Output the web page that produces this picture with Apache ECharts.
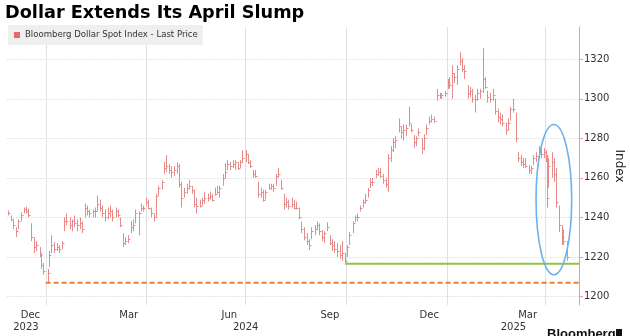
<!DOCTYPE html>
<html>
<head>
<meta charset="utf-8">
<script src="https://cdn.jsdelivr.net/npm/echarts@6/dist/echarts.min.js"></script>
<style>
html,body{margin:0;padding:0;background:#fff;}
#chart{width:630px;height:336px;}
</style>
</head>
<body>
<div id="chart"></div>
<script>
// ---- DATA ----
var seriesName = 'Bloomberg Dollar Spot Index - Last Price';
var dates = ['2023-11-27','2023-11-29','2023-12-01','2023-12-04','2023-12-06','2023-12-08','2023-12-11','2023-12-13','2023-12-15','2023-12-18','2023-12-20','2023-12-22','2023-12-26','2023-12-27','2023-12-29','2024-01-02','2024-01-03','2024-01-05','2024-01-08','2024-01-10','2024-01-12','2024-01-15','2024-01-17','2024-01-19','2024-01-22','2024-01-24','2024-01-26','2024-01-29','2024-01-31','2024-02-02','2024-02-05','2024-02-07','2024-02-09','2024-02-12','2024-02-14','2024-02-16','2024-02-19','2024-02-21','2024-02-23','2024-02-26','2024-02-28','2024-03-01','2024-03-04','2024-03-06','2024-03-08','2024-03-11','2024-03-13','2024-03-15','2024-03-18','2024-03-20','2024-03-22','2024-03-25','2024-03-27','2024-03-29','2024-04-01','2024-04-03','2024-04-05','2024-04-08','2024-04-10','2024-04-12','2024-04-15','2024-04-17','2024-04-19','2024-04-22','2024-04-24','2024-04-26','2024-04-29','2024-05-01','2024-05-03','2024-05-06','2024-05-08','2024-05-10','2024-05-13','2024-05-15','2024-05-17','2024-05-20','2024-05-22','2024-05-24','2024-05-28','2024-05-29','2024-05-31','2024-06-03','2024-06-05','2024-06-07','2024-06-10','2024-06-12','2024-06-14','2024-06-17','2024-06-19','2024-06-21','2024-06-24','2024-06-26','2024-06-28','2024-07-01','2024-07-03','2024-07-05','2024-07-08','2024-07-10','2024-07-12','2024-07-15','2024-07-17','2024-07-19','2024-07-22','2024-07-24','2024-07-26','2024-07-29','2024-07-31','2024-08-02','2024-08-05','2024-08-07','2024-08-09','2024-08-12','2024-08-14','2024-08-16','2024-08-19','2024-08-21','2024-08-23','2024-08-26','2024-08-28','2024-08-30','2024-09-02','2024-09-04','2024-09-06','2024-09-09','2024-09-11','2024-09-13','2024-09-16','2024-09-18','2024-09-20','2024-09-23','2024-09-25','2024-09-27','2024-09-30','2024-10-02','2024-10-04','2024-10-07','2024-10-09','2024-10-11','2024-10-14','2024-10-16','2024-10-18','2024-10-21','2024-10-23','2024-10-25','2024-10-28','2024-10-30','2024-11-01','2024-11-04','2024-11-06','2024-11-08','2024-11-11','2024-11-13','2024-11-15','2024-11-18','2024-11-20','2024-11-22','2024-11-25','2024-11-27','2024-11-29','2024-12-02','2024-12-04','2024-12-06','2024-12-09','2024-12-11','2024-12-13','2024-12-16','2024-12-18','2024-12-20','2024-12-23','2024-12-26','2024-12-27','2024-12-30','2025-01-02','2025-01-03','2025-01-06','2025-01-08','2025-01-10','2025-01-13','2025-01-15','2025-01-17','2025-01-20','2025-01-22','2025-01-24','2025-01-27','2025-01-29','2025-01-31','2025-02-03','2025-02-05','2025-02-07','2025-02-10','2025-02-12','2025-02-14','2025-02-17','2025-02-19','2025-02-21','2025-02-24','2025-02-26','2025-02-28','2025-03-03','2025-03-05','2025-03-07','2025-03-10','2025-03-12','2025-03-14','2025-03-17','2025-03-19','2025-03-21','2025-03-24','2025-03-26','2025-03-28','2025-03-31','2025-04-02','2025-04-03','2025-04-04','2025-04-07','2025-04-09','2025-04-11','2025-04-14','2025-04-16','2025-04-17','2025-04-21'];
var highs = [1243.5,1241,1239,1235,1239,1242.5,1245,1245.5,1244.5,1237,1230,1228,1225,1222,1217,1214,1223,1231,1227.5,1227,1226,1228,1240,1242,1240,1239,1241,1239,1240,1238,1247,1246,1244,1244,1245,1251,1249,1246,1244,1245,1246,1244,1245,1244,1240,1232,1230,1231,1238,1239,1244,1243,1247,1246,1250,1249,1245,1242,1252,1256,1259,1268,1271.5,1267,1266,1266,1268,1267,1258,1255,1257,1259,1256,1254,1250,1249,1250,1253,1252,1253,1252,1255,1256,1256,1262,1267.5,1269,1268,1269,1269,1268,1269,1274,1274,1272,1269,1264,1264,1258,1255,1254,1254,1257,1257,1257,1262,1265,1259,1252,1250,1249,1250,1249,1248,1245,1238,1235,1232,1229,1235,1236,1238,1237,1233.6,1233,1237.5,1231,1229,1228,1227,1226,1228,1222,1226,1232.6,1238,1241,1242,1246,1249,1252,1255,1260,1260,1264,1265,1265,1262,1260,1272,1276,1280,1281,1290,1286,1287,1287,1296,1287,1281.6,1281,1285,1280,1282,1287,1291,1292,1291,1305,1303,1303,1304,1310,1311,1317,1313,1317,1323.7,1320.6,1317,1307,1306,1305,1302,1305,1305,1325.6,1311,1304,1303,1305,1300,1295,1293,1292,1288,1290,1296,1300,1293,1273,1271.5,1270,1270,1266.5,1266,1271.5,1273,1276,1275,1275,1274,1271.5,1270,1273,1270,1265,1246,1236,1234,1228];
var lows = [1241,1238,1234,1230,1234,1238,1242,1242,1240,1228,1222,1223,1220,1214,1211,1207,1215,1222,1222,1223,1222,1224,1233,1236,1234,1233,1235,1233,1234,1232,1240,1241,1240,1240,1240,1243,1243,1240,1238,1239,1240,1238,1240,1240,1235,1225,1226,1227,1232,1233,1237,1231,1243,1243,1246,1244,1240,1238,1240,1251,1254,1262,1263,1262,1260,1261,1262,1255,1245,1250,1252,1254,1252,1245,1242,1245,1246,1247,1248,1249,1248,1251,1252,1250,1256,1260,1264,1264,1265,1264,1264,1265,1267.5,1268,1267,1265,1260,1260,1250,1250,1248,1249,1254,1254,1253,1256,1260,1254,1244,1245,1244,1245,1244,1244,1239,1232,1228.5,1226,1223.5,1229,1231,1233.6,1231,1228,1227,1233,1226,1223,1222,1220,1219,1218,1216.5,1220,1226,1232,1237.7,1238,1243,1245,1247,1250,1255,1256,1260,1261,1260,1257,1255,1253,1268,1273,1275,1283,1280,1279,1281,1286,1283,1275,1276,1281,1272,1274,1281.6,1287,1288,1288,1299,1300,1300,1301,1305,1305,1300,1308,1307,1317,1313.5,1310,1300,1301,1298,1293,1299,1300,1303,1305,1298,1298,1299,1292,1288,1287,1286,1281.6,1284,1289,1293,1278,1268,1266,1265,1265,1262,1262,1266.5,1268,1270,1270,1270,1268,1245,1255,1260,1258,1245,1232.6,1226,1226,1218];
var closes = [1242,1239,1236,1233,1238,1241,1244,1243,1241,1230,1225,1226,1221,1216,1213,1212,1221,1226,1224,1225,1224,1227,1238,1238,1236,1238,1237,1236,1237,1234,1245,1243,1242,1243,1243,1247,1245,1242,1240,1242,1243,1240,1243,1241,1236,1227,1228,1229,1235,1236,1242,1242,1245,1245,1248,1245,1242,1240,1251,1255,1258,1265,1266,1264,1263,1264,1266,1257,1250,1253,1255,1256,1254,1247,1246,1246,1249,1250,1250,1251,1249,1252,1253,1255,1260,1263,1267,1266,1267,1268,1265,1268,1270,1272,1268,1266,1262,1261,1252,1253,1249,1253,1255,1256,1255,1261,1262,1255,1247,1248,1246,1247,1245,1245,1240,1234,1230,1228,1226,1233,1234,1236,1233,1230,1232,1235,1227,1226,1224,1223,1221,1222,1218,1225,1231,1237,1240,1240,1245,1248,1249,1254,1258,1258,1262,1263,1261,1259,1257,1270,1274,1278,1279,1286,1283,1284,1285,1288,1284,1278,1280,1283,1275,1280,1285,1289,1290,1289,1302,1301,1302,1303,1308,1307,1313,1311,1315,1319,1315,1314,1303,1304,1300,1300,1303,1304,1310,1306,1301,1300,1302,1294,1291,1290,1288,1284,1288,1295,1295,1280,1270,1268,1267,1266,1264,1265,1270,1271,1273,1272,1273,1271,1250,1266,1268,1262,1248,1236,1230,1228,1220];

// axis range and labels
var axisStartDate = '2023-11-26';
var axisEndDate = '2025-05-02';
var gridLineDates = ['2024-01-01','2024-04-01','2024-07-01','2024-10-01','2025-01-01','2025-04-01'];
var monthLabelDates = ['2023-12-17','2024-03-16','2024-06-16','2024-09-16','2024-12-16','2025-03-16'];
var monthLabelTexts = ['Dec','Mar','Jun','Sep','Dec','Mar'];
var yearLabelDates = ['2023-12-13','2024-07-01','2025-03-03'];
var yearLabelTexts = ['2023','2024','2025'];
var yTicks = [1200,1220,1240,1260,1280,1300,1320];
var yMin = 1195.7, yMax = 1336.3;

// annotations
var lowDec2023 = 1207;       var lowDec2023Start = '2023-12-31';
var lowSep2024 = 1216.5;     var lowSep2024Start = '2024-09-30';
var ellipseCenterDate = '2025-04-09'; var ellipseCenterValue = 1249;
var ellipseHalfDays = 16.3;  var ellipseHalfValue = 38;

// ---- BUILD ----
function ts(s){ var p = s.split('-'); return Date.UTC(+p[0], +p[1]-1, +p[2]); }
var barColor = '#e68a8a';
var font = 'DejaVu Sans';

var ohlc = dates.map(function(d,i){ return [ts(d), highs[i], lows[i], closes[i]]; });
var xMin = ts(axisStartDate), xMax = ts(axisEndDate);
var monthT = monthLabelDates.map(ts), yearT = yearLabelDates.map(ts);

var chart = echarts.init(document.getElementById('chart'), null, {renderer:'canvas'});
var option = {
  animation:false,
  backgroundColor:'#fff',
  title:{text:'Dollar Extends Its April Slump', left:5, top:4, padding:0,
    textStyle:{fontFamily:font, fontWeight:'bold', fontSize:17.7, color:'#000'}},
  legend:{left:8, top:25, padding:[5,5,5,6], backgroundColor:'#efefef', itemWidth:6, itemHeight:6, itemGap:3,
    data:[{name:seriesName, icon:'rect', itemStyle:{color:'#e8696d'}}],
    textStyle:{fontFamily:'DejaVu Sans Condensed', fontSize:9.5, color:'#333'}},
  grid:{left:7.4, right:51, top:27, bottom:31, containLabel:false, outerBoundsMode:'none'},
  xAxis:[{
    type:'value', min:xMin, max:xMax,
    axisLine:{show:false},
    axisTick:{show:false, customValues: gridLineDates.map(ts)},
    splitLine:{show:true, lineStyle:{color:'#e0e0e0', width:1}},
    axisLabel:{customValues: monthT, margin:5, fontFamily:font, fontSize:10, color:'#333',
      formatter:function(v){ var i = monthT.indexOf(v); return i>=0 ? monthLabelTexts[i] : ''; }}
  },{
    type:'value', min:xMin, max:xMax, position:'bottom', offset:12,
    axisLine:{show:false}, axisTick:{show:false}, splitLine:{show:false},
    axisLabel:{customValues: yearT, margin:5, fontFamily:font, fontSize:10, color:'#333',
      formatter:function(v){ var i = yearT.indexOf(v); return i>=0 ? yearLabelTexts[i] : ''; }}
  }],
  yAxis:{
    type:'value', position:'right', min:yMin, max:yMax,
    axisLine:{show:true, lineStyle:{color:'#ef9a9a', width:1}},
    axisTick:{show:true, inside:false, length:4, customValues:yTicks, lineStyle:{color:'#ef9a9a'}},
    axisLabel:{customValues:yTicks, margin:5, fontFamily:font, fontSize:10, color:'#333',
      formatter:function(v){ return String(Math.round(v)); }},
    splitLine:{show:true, lineStyle:{color:'#cccccc', type:[1,2], width:1}},
    name:'Index', nameLocation:'middle', nameRotate:-90, nameGap:34, nameMoveOverlap:false,
    nameTextStyle:{fontFamily:font, fontSize:12, color:'#222'}
  },
  series:[{
    name:seriesName, type:'custom', xAxisIndex:0, yAxisIndex:0,
    itemStyle:{color:barColor},
    encode:{x:0, y:[1,2,3]},
    data:ohlc,
    renderItem:function(params, api){
      var x = api.value(0);
      var hi = api.coord([x, api.value(1)]);
      var lo = api.coord([x, api.value(2)]);
      var cl = api.coord([x, api.value(3)]);
      var px = Math.round(hi[0]) + 0.5;
      var cy = Math.round(cl[1]) + 0.5;
      return {type:'group', children:[
        {type:'line', shape:{x1:px, y1:hi[1], x2:px, y2:lo[1]}, style:{stroke:barColor, lineWidth:1}},
        {type:'line', shape:{x1:px, y1:cy, x2:px+2, y2:cy}, style:{stroke:barColor, lineWidth:1}}
      ]};
    },
    z:3
  },{
    name:'decLow', type:'line', xAxisIndex:0, yAxisIndex:0, symbol:'none', silent:true,
    data:[[ts(lowDec2023Start), lowDec2023],[xMax, lowDec2023]],
    lineStyle:{color:'#f07d2c', width:2, type:[5,3]}, z:4
  },{
    name:'sepLow', type:'line', xAxisIndex:0, yAxisIndex:0, symbol:'none', silent:true,
    data:[[ts(lowSep2024Start), lowSep2024],[xMax, lowSep2024]],
    lineStyle:{color:'#8dc63f', width:2}, z:4
  }]
};
chart.setOption(option);

// ellipse annotation positioned from data coordinates
var c = chart.convertToPixel({xAxisIndex:0, yAxisIndex:0}, [ts(ellipseCenterDate), ellipseCenterValue]);
var r1 = chart.convertToPixel({xAxisIndex:0, yAxisIndex:0}, [ts(ellipseCenterDate) + ellipseHalfDays*86400000, ellipseCenterValue + ellipseHalfValue]);
chart.setOption({graphic:[
  {type:'ellipse', shape:{cx:c[0], cy:c[1], rx:Math.abs(r1[0]-c[0]), ry:Math.abs(r1[1]-c[1])},
   style:{fill:'none', stroke:'#6fb1ea', lineWidth:1.6}, z:10},
  {type:'text', left:547, top:328, style:{text:'Bloomberg', font:'bold 13px "Liberation Sans"', fill:'#111'}, z:10},
  {type:'rect', shape:{x:616, y:329, width:6, height:8}, style:{fill:'#111'}, z:10}
]});
</script>
</body>
</html>
